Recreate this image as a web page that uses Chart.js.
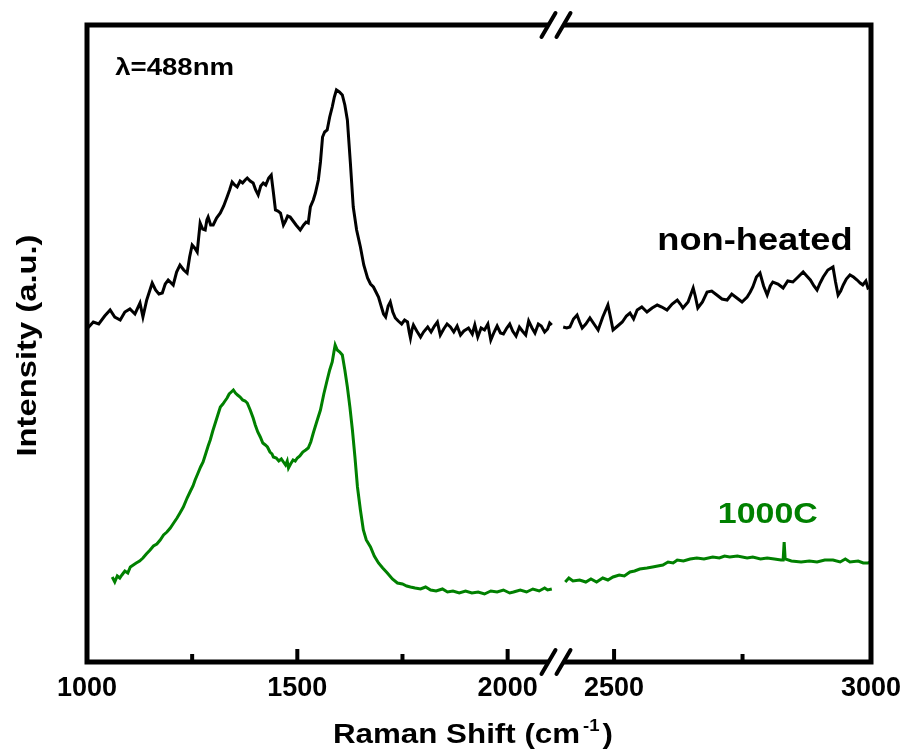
<!DOCTYPE html>
<html><head><meta charset="utf-8">
<script src="https://cdn.jsdelivr.net/npm/chart.js@4.4.1/dist/chart.umd.min.js"></script>
<style>html,body{margin:0;padding:0;background:#fff}</style>
</head><body>
<canvas id="c" width="904" height="753"></canvas>
<script>
// ---------- data (Raman shift in cm^-1, intensity in a.u.) ----------
const blackLeftX = [1002,1015,1028,1042,1055,1066,1079,1090,1102,1114,1126,1133,1142,1155,1163,1171,1179,1186,1193,1205,1213,1221,1230,1238,1244,1250,1256,1262,1269,1275,1281,1285,1288,1294,1300,1308,1317,1325,1333,1339,1345,1351,1357,1364,1370,1376,1381,1388,1395,1401,1407,1413,1419,1425,1432,1438,1443,1448,1454,1460,1467,1472,1477,1483,1490,1497,1503,1507,1515,1521,1526,1531,1538,1543,1550,1555,1560,1565,1571,1577,1583,1588,1593,1600,1607,1613,1619,1626,1633,1641,1650,1658,1667,1674,1681,1687,1693,1700,1705,1710,1716,1721,1727,1733,1740,1748,1755,1762,1766,1769,1773,1776,1784,1793,1800,1810,1818,1826,1833,1840,1848,1856,1864,1872,1880,1888,1896,1907,1916,1922,1929,1937,1945,1953,1960,1968,1975,1983,1990,1998,2005,2012,2020,2028,2035,2043,2050,2058,2065,2073,2080,2088,2095,2100,2105];
const blackLeftY = [334,340,338,346,352,345,342,350,353,348,359,345,362,379,372,368,369,378,382,377,390,397,392,389,405,417,414,410,439,433,432,442,445,437,437,444,449,456,465,472,480,477,475,481,479,482,484,481,479,472,467,476,479,477,484,487,470,452,451,449,437,441,446,445,441,437,434,432,437,440,439,455,462,469,482,500,525,530,532,545,555,565,572,570,567,557,542,500,455,432,415,397,384,378,375,370,365,355,348,345,356,360,350,344,341,338,342,340,330,324,333,337,331,325,330,335,330,336,340,327,333,338,335,330,336,327,331,334,328,337,325,334,332,338,322,330,336,329,328,334,338,331,326,335,331,327,341,334,329,338,336,330,333,339,337];

const blackRightX = [2401,2408,2414,2421,2428,2433,2438,2445,2453,2461,2469,2478,2488,2493,2498,2507,2516,2524,2531,2538,2545,2554,2564,2574,2584,2593,2603,2613,2623,2629,2634,2644,2654,2658,2663,2672,2681,2690,2700,2710,2720,2729,2739,2749,2759,2765,2770,2777,2784,2791,2798,2804,2809,2819,2829,2838,2848,2858,2868,2875,2882,2889,2895,2901,2907,2916,2926,2931,2936,2941,2946,2952,2959,2966,2973,2979,2984,2990,2994,3000];
const blackRightY = [335,334,335,343,347,340,334,338,344,338,332,345,357,345,332,336,340,346,349,343,352,355,350,354,357,355,352,358,362,358,354,360,374,366,354,360,370,371,367,363,362,368,364,360,365,370,375,385,389,376,367,376,380,378,374,381,380,385,390,386,382,376,372,379,385,392,395,380,367,371,377,383,387,385,382,379,377,381,374,376];

const greenLeftX = [1060,1066,1072,1078,1083,1090,1097,1103,1110,1117,1125,1133,1141,1150,1158,1166,1174,1182,1190,1198,1206,1214,1221,1229,1238,1246,1252,1257,1263,1270,1276,1282,1288,1293,1299,1305,1311,1317,1323,1328,1333,1338,1343,1348,1353,1358,1364,1370,1376,1381,1388,1395,1400,1406,1412,1418,1424,1429,1435,1440,1443,1450,1456,1462,1467,1472,1476,1479,1484,1490,1495,1500,1506,1513,1520,1526,1532,1538,1546,1555,1563,1571,1577,1583,1587,1590,1595,1601,1607,1613,1619,1625,1631,1637,1643,1650,1657,1664,1674,1683,1693,1703,1714,1726,1738,1750,1760,1769,1780,1793,1805,1817,1830,1845,1857,1870,1885,1900,1915,1930,1945,1960,1975,1990,2005,2014,2030,2045,2060,2075,2088,2095,2105];
const greenLeftY = [85,80,86,84,87,91,89,95,97,99,101,104,108,112,116,118,122,127,130,134,139,144,149,155,164,171,176,182,188,195,200,208,216,222,231,239,247,255,258,261,264,268,270,272,269,267,265,262,261,259,252,244,237,230,225,219,217,215,210,208,205,204,201,203,200,197,201,194,198,202,201,204,206,210,212,214,220,229,240,252,268,282,292,300,310,317,312,310,307,292,275,255,232,205,175,152,132,122,115,106,99,94,89,83,79,78,76,75,74,73,75,72,71,73,70,71,69,71,69,70,68,71,70,72,69,70,72,70,73,71,74,72,73];

const greenRightX = [2405,2412,2420,2433,2445,2455,2466,2478,2488,2498,2510,2520,2531,2540,2550,2564,2575,2585,2595,2605,2615,2623,2635,2648,2661,2675,2692,2705,2715,2725,2740,2759,2770,2785,2798,2812,2825,2829,2831,2833,2845,2864,2880,2895,2910,2926,2940,2950,2959,2975,2985,2994,3000];
const greenRightY = [80,84,81,82,80,83,80,84,82,85,87,86,90,91,93,94,95,96,97,100,99,102,101,103,104,103,105,104,106,105,106,104,105,103,104,103,102,102,120,103,101,100,101,100,102,102,100,103,100,101,99,99,100];

const seriesNames = ['non-heated', '1000C'];
const seriesColors = ['#000000', '#008000'];
const leftRange = [1000, 2115];
const rightRange = [2387, 3000];
const tickLabels = [1000, 1500, 2000, 2500, 3000];
const majorTicks = [1500, 2000, 2500];
const minorTicks = [1250, 1750, 2750];
const yRange = [0, 637];
const xTitle = ['Raman Shift (cm', '-1', ')'];
const yTitle = 'Intensity (a.u.)';

// ---------- helpers ----------
const FONT = '"Liberation Sans", Arial, Helvetica, sans-serif';
function pts(xs, ys){ return xs.map((x, i) => ({x: x, y: ys[i]})); }

function stretchedText(ctx, text, x, y, size, color, sx){
  ctx.save();
  ctx.font = 'bold ' + size + 'px ' + FONT;
  ctx.fillStyle = color;
  ctx.textBaseline = 'alphabetic';
  ctx.textAlign = 'left';
  ctx.translate(x, y);
  ctx.scale(sx, 1);
  ctx.fillText(text, 0, 0);
  const w = ctx.measureText(text).width * sx;
  ctx.restore();
  return w;
}
function textWidth(ctx, text, size, sx){
  ctx.save();
  ctx.font = 'bold ' + size + 'px ' + FONT;
  const w = ctx.measureText(text).width * sx;
  ctx.restore();
  return w;
}

const decor = {
  id: 'decor',
  afterDatasetsDraw(chart){
    const {ctx, chartArea: a, scales} = chart;
    const x1 = scales.x1, x2 = scales.x2, y = scales.y;
    const b = x1.right;
    ctx.save();
    // frame with break
    ctx.strokeStyle = '#000';
    ctx.lineWidth = 5;
    ctx.lineJoin = 'miter';
    ctx.lineCap = 'butt';
    ctx.beginPath();
    ctx.moveTo(b - 7.5, a.top); ctx.lineTo(a.left, a.top); ctx.lineTo(a.left, a.bottom); ctx.lineTo(b - 7.5, a.bottom);
    ctx.moveTo(b + 7.5, a.top); ctx.lineTo(a.right, a.top); ctx.lineTo(a.right, a.bottom); ctx.lineTo(b + 7.5, a.bottom);
    ctx.stroke();
    // break marks
    ctx.lineWidth = 4;
    ctx.lineCap = 'round';
    [b - 7.5, b + 7.5].forEach(c => {
      [a.top, a.bottom].forEach(yy => {
        ctx.beginPath();
        ctx.moveTo(c - 7, yy + 12);
        ctx.lineTo(c + 7, yy - 12);
        ctx.stroke();
      });
    });
    // inward tick marks
    ctx.lineCap = 'butt';
    ctx.lineWidth = 4;
    const tick = (v, len) => {
      const sc = v <= leftRange[1] ? x1 : x2;
      const px = sc.getPixelForValue(v);
      ctx.beginPath(); ctx.moveTo(px, a.bottom); ctx.lineTo(px, a.bottom - len); ctx.stroke();
    };
    majorTicks.forEach(v => tick(v, 13));
    minorTicks.forEach(v => tick(v, 8));
    ctx.restore();

    // annotations
    stretchedText(ctx, 'λ=488nm', x1.getPixelForValue(1067), y.getPixelForValue(587), 23, '#000', 1.2);
    stretchedText(ctx, seriesNames[0], x2.getPixelForValue(2584), y.getPixelForValue(412), 31, seriesColors[0], 1.17);
    stretchedText(ctx, seriesNames[1], x2.getPixelForValue(2702), y.getPixelForValue(139), 29, seriesColors[1], 1.17);

    // x-axis title with superscript
    const sx = 1.16;
    const w1 = textWidth(ctx, xTitle[0], 27, sx), w2 = textWidth(ctx, xTitle[1], 16, sx), w3 = textWidth(ctx, xTitle[2], 27, sx);
    const total = w1 + 3 + w2 + 3 + w3;
    const cx = (a.left + a.right) / 2 - 6;
    let tx = cx - total / 2;
    const base = 743;
    stretchedText(ctx, xTitle[0], tx, base, 27, '#000', sx); tx += w1 + 3;
    stretchedText(ctx, xTitle[1], tx, base - 12, 16, '#000', sx); tx += w2 + 3;
    stretchedText(ctx, xTitle[2], tx, base, 27, '#000', sx);

    // y-axis title (rotated)
    ctx.save();
    const cy = (a.top + a.bottom) / 2 + 2;
    ctx.translate(36, cy);
    ctx.rotate(-Math.PI / 2);
    const wy = textWidth(ctx, yTitle, 28, 1.17);
    stretchedText(ctx, yTitle, -wy / 2, 0, 28, '#000', 1.17);
    ctx.restore();
  }
};

const tickFont = {family: FONT, size: 27, weight: 'bold'};
function xAxis(range, weight){
  return {
    type: 'linear', position: 'bottom', stack: 'xs', stackWeight: weight,
    min: range[0], max: range[1],
    afterBuildTicks(s){ s.ticks = tickLabels.filter(v => v >= range[0] && v <= range[1]).map(v => ({value: v})); },
    afterFit(s){ s.height = 91; s.paddingLeft = 0; s.paddingRight = 0; },
    grid: {display: false, drawTicks: false},
    border: {display: false},
    ticks: {
      autoSkip: false, maxRotation: 0, padding: 10,
      color: '#000', font: tickFont,
      callback: (v) => String(v)
    }
  };
}

new Chart(document.getElementById('c').getContext('2d'), {
  type: 'line',
  data: {
    datasets: [
      {label: seriesNames[0], data: pts(blackLeftX, blackLeftY), xAxisID: 'x1', yAxisID: 'y', borderColor: seriesColors[0], borderWidth: 3, pointRadius: 0, tension: 0, fill: false},
      {label: seriesNames[0], data: pts(blackRightX, blackRightY), xAxisID: 'x2', yAxisID: 'y', borderColor: seriesColors[0], borderWidth: 3, pointRadius: 0, tension: 0, fill: false},
      {label: seriesNames[1], data: pts(greenLeftX, greenLeftY), xAxisID: 'x1', yAxisID: 'y', borderColor: seriesColors[1], borderWidth: 3, pointRadius: 0, tension: 0, fill: false},
      {label: seriesNames[1], data: pts(greenRightX, greenRightY), xAxisID: 'x2', yAxisID: 'y', borderColor: seriesColors[1], borderWidth: 3, pointRadius: 0, tension: 0, fill: false}
    ]
  },
  options: {
    responsive: false,
    animation: false,
    devicePixelRatio: 1,
    layout: {padding: {top: 25, right: 33, left: 0, bottom: 0}},
    plugins: {legend: {display: false}, tooltip: {enabled: false}},
    scales: {
      x1: xAxis(leftRange, 469),
      x2: xAxis(rightRange, 315),
      y: {
        type: 'linear', position: 'left', min: yRange[0], max: yRange[1],
        afterFit(s){ s.width = 87; },
        ticks: {display: false},
        grid: {display: false, drawTicks: false},
        border: {display: false},
        title: {display: false}
      }
    }
  },
  plugins: [decor]
});
</script>
</body></html>
